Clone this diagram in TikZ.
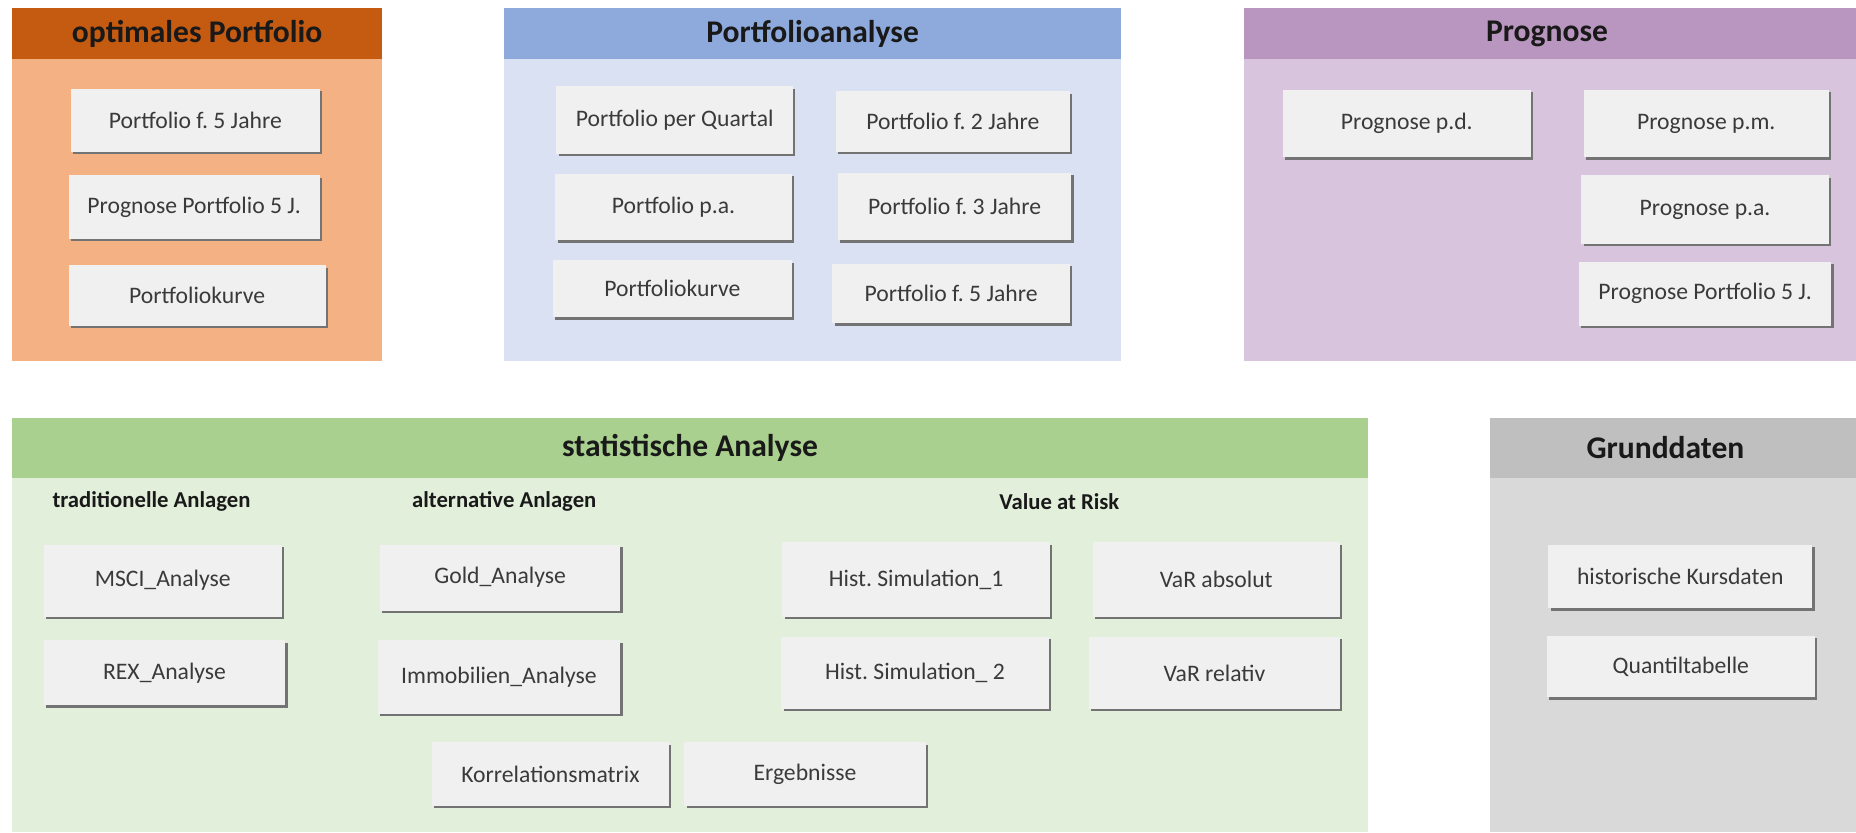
\documentclass[tikz,border=0pt]{standalone}
\usepackage{fontspec}
\setmainfont{Carlito}
\frenchspacing
\usetikzlibrary{positioning,shadows}
\definecolor{opthead}{HTML}{C55A11}
\definecolor{optbody}{HTML}{F4B183}
\definecolor{anahead}{HTML}{8EA9DB}
\definecolor{anabody}{HTML}{D9E1F2}
\definecolor{proghead}{HTML}{B996BF}
\definecolor{progbody}{HTML}{D8C4DC}
\definecolor{stathead}{HTML}{A9D08E}
\definecolor{statbody}{HTML}{E2EFDA}
\definecolor{grundhead}{HTML}{BFBFBF}
\definecolor{grundbody}{HTML}{D9D9D9}
\definecolor{btnfill}{HTML}{F0F0F0}
\definecolor{btntext}{HTML}{3A3A3A}

\begin{document}
\begin{tikzpicture}[x=0.6pt,y=-0.6pt,
  btn/.style 2 args={fill=btnfill, text=btntext, inner sep=0pt,
    minimum width=#1*0.6pt, minimum height=#2*0.6pt, font=\fontsize{12}{14}\selectfont,
    drop shadow={shadow xshift=1.2pt, shadow yshift=-1.2pt, fill=black!55, opacity=1}},
  title/.style={font=\bfseries\fontsize{16}{19}\selectfont, text=black!90},
  subtitle/.style={font=\bfseries\fontsize{11.5}{14}\selectfont, text=black!90}]
  \useasboundingbox (0,0) rectangle (1568,703);

  % optimales Portfolio
  \fill[optbody] (10,7) rectangle (323,305);
  \fill[opthead] (10,7) rectangle (323,50);
  \node[title] (optT) at (166.5,28.5) {optimales Portfolio};
  \node[btn={210}{53}] (opt1) at (165,101.5) {Portfolio f. 5 Jahre};
  \node[btn={212}{54}] (opt2) at (164,175) {Prognose Portfolio 5 J.};
  \node[btn={217}{51}] (opt3) at (166.5,249.5) {Portfoliokurve};

  % Portfolioanalyse
  \fill[anabody] (426,7) rectangle (947,305);
  \fill[anahead] (426,7) rectangle (947,50);
  \node[title] (anaT) at (686.5,28.5) {Portfolioanalyse};
  \node[btn={200}{57}] (ana1) at (570,101.5) {Portfolio per Quartal};
  \node[btn={198}{51}] (ana2) at (805,102.5) {Portfolio f. 2 Jahre};
  \node[btn={200}{56}] (ana3) at (569,175) {Portfolio p.a.};
  \node[btn={197}{57}] (ana4) at (806.5,174.5) {Portfolio f. 3 Jahre};
  \node[btn={202}{48}] (ana5) at (568,244) {Portfoliokurve};
  \node[btn={201}{50}] (ana6) at (803.5,248) {Portfolio f. 5 Jahre};

  % Prognose
  \fill[progbody] (1051,7) rectangle (1568,305);
  \fill[proghead] (1051,7) rectangle (1568,50);
  \node[title] (progT) at (1307,28.5) {Prognose};
  \node[btn={209}{57}] (prog1) at (1188.5,104.5) {Prognose p.d.};
  \node[btn={207}{57}] (prog2) at (1441.5,104.5) {Prognose p.m.};
  \node[btn={209}{58}] (prog3) at (1440.5,177) {Prognose p.a.};
  \node[btn={213}{54}] (prog4) at (1440.5,248) {Prognose Portfolio 5 J.};

  % statistische Analyse
  \fill[statbody] (10,353) rectangle (1156,703);
  \fill[stathead] (10,353) rectangle (1156,404);
  \node[title] (statT) at (583,378.5) {statistische Analyse};
  \node[subtitle] (trad) at (128,424) {traditionelle Anlagen};
  \node[subtitle] (alt) at (426,424) {alternative Anlagen};
  \node[subtitle] (var) at (895,424) {Value at Risk};
  \node[btn={201}{61}] (msci) at (137.5,490.5) {MSCI\_Analyse};
  \node[btn={204}{55}] (rex) at (139,568.5) {REX\_Analyse};
  \node[btn={203}{56}] (gold) at (422.5,488) {Gold\_Analyse};
  \node[btn={205}{62}] (immo) at (421.5,572) {Immobilien\_Analyse};
  \node[btn={226}{63}] (hist1) at (774,489.5) {Hist. Simulation\_1};
  \node[btn={209}{63}] (varabs) at (1027.5,489.5) {VaR absolut};
  \node[btn={226}{61}] (hist2) at (773,568.5) {Hist. Simulation\_ 2};
  \node[btn={212}{61}] (varrel) at (1026,568.5) {VaR relativ};
  \node[btn={200}{54}] (korr) at (465,654) {Korrelationsmatrix};
  \node[btn={204}{54}] (erg) at (680,654) {Ergebnisse};

  % Grunddaten
  \fill[grundbody] (1259,353) rectangle (1568,703);
  \fill[grundhead] (1259,353) rectangle (1568,404);
  \node[title] (grundT) at (1407,378.5) {Grunddaten};
  \node[btn={223}{54}] (kurs) at (1419.5,487) {historische Kursdaten};
  \node[btn={226}{52}] (quant) at (1420,563) {Quantiltabelle};
\end{tikzpicture}
\end{document}
